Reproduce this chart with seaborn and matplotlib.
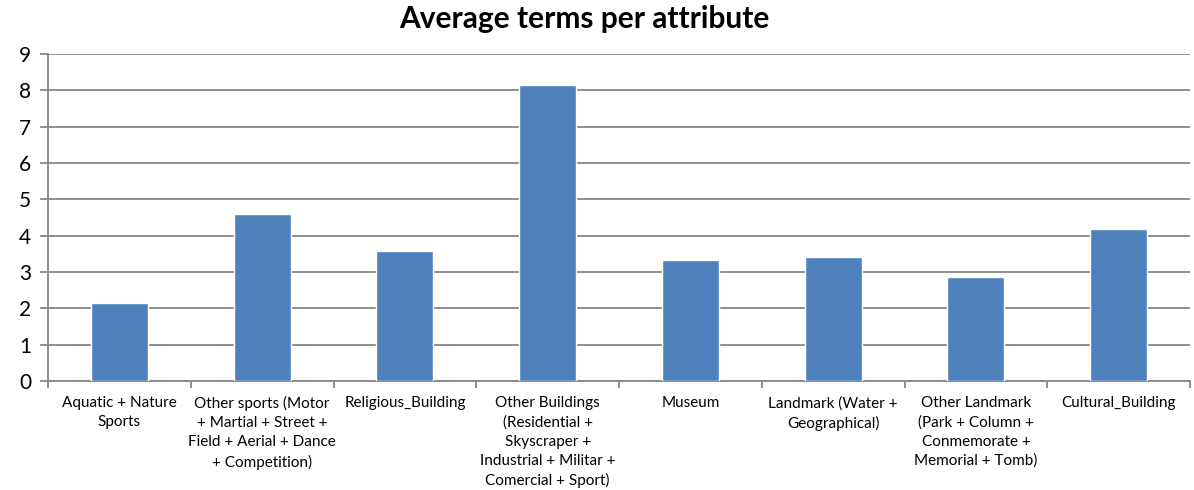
import matplotlib
matplotlib.use("Agg")
import matplotlib.pyplot as plt
from matplotlib.ticker import FixedLocator
import seaborn as sns
import pandas as pd
import numpy as np

categories = [
    "Aquatic + Nature\nSports",
    "Other sports (Motor\n+ Martial + Street +\nField + Aerial + Dance\n+ Competition)",
    "Religious_Building",
    "Other Buildings\n(Residential +\nSkyscraper +\nIndustrial + Militar +\nComercial + Sport)",
    "Museum",
    "Landmark (Water +\nGeographical)",
    "Other Landmark\n(Park + Column +\nConmemorate +\nMemorial + Tomb)",
    "Cultural_Building",
]
avg_terms = [2.14, 4.60, 3.58, 8.15, 3.33, 3.41, 2.86, 4.18]
y_ticks = list(range(0, 10))

title = "Average terms per attribute"
bar_color = "#4F81BD"
grid_color = "#868686"

sns.set_style("white")
plt.rcParams["font.family"] = ["Lato", "DejaVu Sans"]
plt.rcParams["text.color"] = "black"
plt.rcParams["xtick.color"] = "black"
plt.rcParams["ytick.color"] = "black"

df = pd.DataFrame({"category": categories, "value": avg_terms})

fig = plt.figure(figsize=(11.94, 4.9), dpi=100)
ax = fig.add_axes([48 / 1194, 109 / 490, (1190 - 48) / 1194, (381 - 54) / 490])

sns.barplot(data=df, x="category", y="value", color=bar_color, width=0.4,
            saturation=1, ax=ax, zorder=3)

ax.set_ylim(0, 9)
ax.set_xlim(-0.5, len(categories) - 0.5)
ax.set_yticks(y_ticks)
ax.set_yticklabels([str(t) for t in y_ticks], fontsize=15, color="black")
ax.yaxis.grid(True, color=grid_color, linewidth=1.3, zorder=0)
ax.set_axisbelow(True)

ax.set_xlabel("")
ax.set_ylabel("")
ax.tick_params(axis="x", which="major", length=0, pad=11, labelsize=11,
               labelcolor="black")
for lbl in ax.get_xticklabels():
    lbl.set_linespacing(1.45)
    lbl.set_verticalalignment("top")

# tick marks at category boundaries
ax.xaxis.set_minor_locator(FixedLocator(np.arange(-0.5, len(categories), 1.0)))
ax.tick_params(axis="x", which="minor", length=5, width=1.3, color=grid_color,
               direction="out", bottom=True)
ax.tick_params(axis="y", which="major", length=6, width=1.3, color=grid_color,
               direction="out", left=True, pad=6)

for side in ["top", "right"]:
    ax.spines[side].set_visible(False)
for side in ["left", "bottom"]:
    ax.spines[side].set_color(grid_color)
    ax.spines[side].set_linewidth(1.3)

fig.text(0.489, 0.99, title, ha="center", va="top", fontsize=21.5,
         fontweight="bold", color="black")

fig.savefig("out.png", dpi=100, facecolor="white")
